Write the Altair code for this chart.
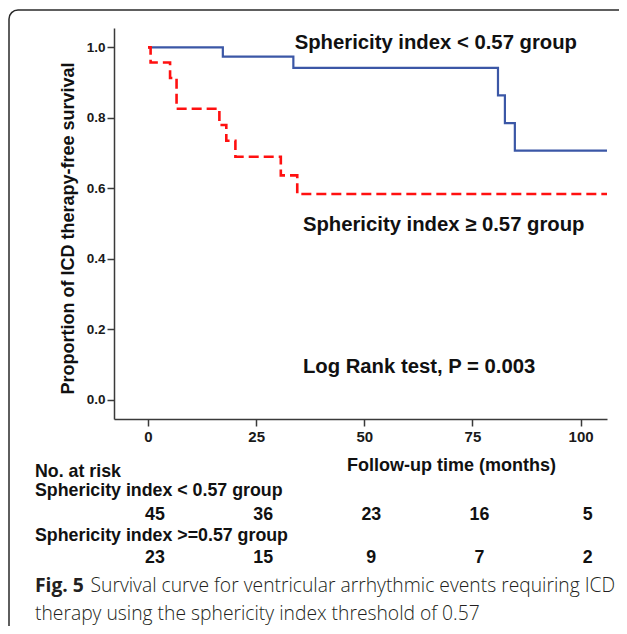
import altair as alt
import pandas as pd

# ---------------- data ----------------
low_time = [0, 17.3, 33.6, 80.9, 82.5, 84.8, 106.1]
low_surv = [1.0, 0.974, 0.942, 0.864, 0.785, 0.707, 0.707]

high_time = [0, 0.6, 5.1, 6.6, 16.5, 18.1, 20.2, 30.7, 34.5, 106.1]
high_surv = [1.0, 0.957, 0.913, 0.826, 0.780, 0.735, 0.690, 0.637, 0.584, 0.584]

x_ticks = [0, 25, 50, 75, 100]
y_ticks = [0.0, 0.2, 0.4, 0.6, 0.8, 1.0]

risk_times = [0, 25, 50, 75, 100]
risk_low = [45, 36, 23, 16, 5]
risk_high = [23, 15, 9, 7, 2]

label_low = "Sphericity index < 0.57 group"
label_high = "Sphericity index \u2265 0.57 group"
label_test = "Log Rank test, P = 0.003"
y_title = "Proportion of ICD therapy-free survival"
x_title = "Follow-up time (months)"
risk_title = "No. at risk"
risk_label_low = "Sphericity index < 0.57 group"
risk_label_high = "Sphericity index >=0.57 group"
caption_bold = "Fig. 5"
caption_line1 = "Survival curve for ventricular arrhythmic events requiring ICD"
caption_line2 = "therapy using the sphericity index threshold of 0.57"

# ---------------- styling ----------------
W, H = 493, 391
BOLD = "Liberation Sans, Arial, sans-serif"
NARROW = "Liberation Sans Narrow, Arial Narrow, Liberation Sans, sans-serif"
CAP = "Open Sans, Noto Sans, sans-serif"
AXC = "#3a3a3a"

xscale = alt.Scale(domain=[-7.86, 106.1], nice=False, zero=False)
yscale = alt.Scale(domain=[-0.054, 1.055], nice=False, zero=False)


def X(field):
    return alt.X(field, type="quantitative", scale=xscale, title=None,
                 axis=alt.Axis(values=x_ticks, format="d", grid=False,
                               domainColor=AXC, domainWidth=1.5,
                               tickColor=AXC, tickWidth=1.5, tickSize=7,
                               labelFont=NARROW, labelFontSize=15,
                               labelFontWeight="bold", labelColor="#1a1a1a",
                               labelPadding=3))


def Y(field):
    return alt.Y(field, type="quantitative", scale=yscale, title=None,
                 axis=alt.Axis(values=y_ticks, format=".1f", grid=False,
                               domainColor=AXC, domainWidth=1.5,
                               tickColor=AXC, tickWidth=1.5, tickSize=7,
                               labelFont=NARROW, labelFontSize=13.5,
                               labelFontWeight="bold", labelColor="#1a1a1a",
                               labelPadding=2))


one = pd.DataFrame({"k": [0]})

frame = alt.Chart(one).mark_rect(
    fillOpacity=0, stroke="#2a2a2a", strokeWidth=1.5, cornerRadius=9
).encode(x=alt.value(-105), x2=alt.value(900), y=alt.value(-18), y2=alt.value(900))

df_low = pd.DataFrame({"time": low_time, "surv": low_surv})
df_high = pd.DataFrame({"time": high_time, "surv": high_surv})

line_low = alt.Chart(df_low).mark_line(
    interpolate="step-after", color="#3b57a6", strokeWidth=2.2
).encode(x=X("time"), y=Y("surv"))

line_high = alt.Chart(df_high).mark_line(
    interpolate="step-after", color="#ff1010", strokeWidth=2.6,
    strokeDash=[10, 5], strokeCap="butt"
).encode(x=X("time"), y=Y("surv"))

ann = pd.DataFrame({
    "time": [33.9, 35.8, 35.8],
    "surv": [0.996, 0.478, 0.0775],
    "txt": [label_low, label_high, label_test],
})
annot = alt.Chart(ann).mark_text(
    font=BOLD, fontWeight="bold", fontSize=20.3, align="left",
    baseline="alphabetic", color="#111"
).encode(x=X("time"), y=Y("surv"), text="txt:N")

ytitle = alt.Chart(one).mark_text(
    text=y_title, font=BOLD, fontWeight="bold", fontSize=18, angle=270,
    align="center", baseline="alphabetic", color="#111"
).encode(x=alt.value(-40), y=alt.value(200.5))

xtitle = alt.Chart(one).mark_text(
    text=x_title, font=BOLD, fontWeight="bold", fontSize=18,
    align="center", baseline="alphabetic", color="#111"
).encode(x=alt.value(337.5), y=alt.value(443))

risk_heads = [risk_title, risk_label_low, risk_label_high]
risk_rows = [448.7, 467.5, 512.5]
rhead_layers = [
    alt.Chart(one).mark_text(
        text=t, font=BOLD, fontWeight="bold", fontSize=17.8, align="left",
        baseline="alphabetic", color="#111"
    ).encode(x=alt.value(-79), y=alt.value(py))
    for t, py in zip(risk_heads, risk_rows)
]

df_rl = pd.DataFrame({"time": risk_times, "n": risk_low})
df_rh = pd.DataFrame({"time": risk_times, "n": risk_high})
rnum_low = alt.Chart(df_rl).mark_text(
    font=BOLD, fontWeight="bold", fontSize=17.8, align="center",
    baseline="alphabetic", color="#111", dx=7
).encode(x=X("time"), y=alt.value(492), text="n:Q")
rnum_high = alt.Chart(df_rh).mark_text(
    font=BOLD, fontWeight="bold", fontSize=17.8, align="center",
    baseline="alphabetic", color="#111", dx=7
).encode(x=X("time"), y=alt.value(535.3), text="n:Q")

cap_b = alt.Chart(one).mark_text(
    text=caption_bold, font=CAP, fontWeight="bold", fontSize=19.3,
    align="left", baseline="alphabetic", color="#231f20"
).encode(x=alt.value(-79), y=alt.value(564))
cap_1 = alt.Chart(one).mark_text(
    text=caption_line1, font=CAP, fontWeight=300, fontSize=19.3,
    align="left", baseline="alphabetic", color="#231f20"
).encode(x=alt.value(-23.5), y=alt.value(564))
cap_2 = alt.Chart(one).mark_text(
    text=caption_line2, font=CAP, fontWeight=300, fontSize=19.3,
    align="left", baseline="alphabetic", color="#231f20"
).encode(x=alt.value(-79), y=alt.value(592))

chart = alt.layer(
    frame, line_low, line_high, annot, ytitle, xtitle, *rhead_layers,
    rnum_low, rnum_high, cap_b, cap_1, cap_2
).properties(
    width=W, height=H,
    autosize=alt.AutoSizeParams(type="none"),
    padding={"left": 106, "top": 20, "right": 12, "bottom": 207},
    background="white",
).configure_view(stroke=None)

chart.save("out.html", embed_options={"renderer": "svg", "actions": False})
